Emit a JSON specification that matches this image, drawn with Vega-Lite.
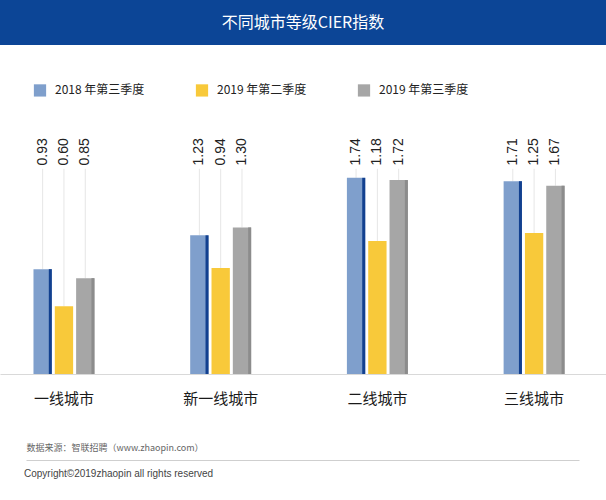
{
  "$schema": "https://vega.github.io/schema/vega-lite/v6.json",
  "padding": 0,
  "background": "white",
  "spacing": 37,
  "center": true,
  "title": {
    "text": "Copyright©2019zhaopin all rights reserved",
    "orient": "bottom",
    "anchor": "start",
    "dx": 24,
    "offset": 3,
    "fontSize": 10,
    "font": "Liberation Sans",
    "fontWeight": "normal",
    "color": "#444444"
  },
  "datasets": {
    "cier": [
      {"city": "一线城市", "period": "2018 年第三季度", "value": 0.93},
      {"city": "一线城市", "period": "2019 年第二季度", "value": 0.60},
      {"city": "一线城市", "period": "2019 年第三季度", "value": 0.85},
      {"city": "新一线城市", "period": "2018 年第三季度", "value": 1.23},
      {"city": "新一线城市", "period": "2019 年第二季度", "value": 0.94},
      {"city": "新一线城市", "period": "2019 年第三季度", "value": 1.30},
      {"city": "二线城市", "period": "2018 年第三季度", "value": 1.74},
      {"city": "二线城市", "period": "2019 年第二季度", "value": 1.18},
      {"city": "二线城市", "period": "2019 年第三季度", "value": 1.72},
      {"city": "三线城市", "period": "2018 年第三季度", "value": 1.71},
      {"city": "三线城市", "period": "2019 年第二季度", "value": 1.25},
      {"city": "三线城市", "period": "2019 年第三季度", "value": 1.67}
    ]
  },
  "vconcat": [
    {
      "width": 606,
      "height": 45,
      "view": {"fill": "#0c4596", "stroke": null},
      "data": {"values": [{"t": "不同城市等级CIER指数"}]},
      "mark": {"type": "text", "color": "white", "fontSize": 16, "font": "Noto Sans CJK SC", "fontWeight": "normal", "baseline": "middle", "align": "center"},
      "encoding": {"text": {"field": "t", "type": "nominal"}}
    },
    {
      "width": 606,
      "height": 292,
      "view": {"stroke": null},
      "data": {"name": "cier"},
      "resolve": {"scale": {"xOffset": "independent"}},
      "encoding": {
        "x": {
          "field": "city",
          "type": "nominal",
          "sort": ["一线城市", "新一线城市", "二线城市", "三线城市"],
          "scale": {"paddingInner": 0.611, "paddingOuter": 0.239, "align": 0.447},
          "axis": {
            "title": null,
            "labelAngle": 0,
            "ticks": false,
            "domainColor": "#d9d9d9",
            "labelFontSize": 15,
            "labelFont": "Noto Sans CJK SC",
            "labelColor": "#1a1a1a",
            "labelPadding": 17
          }
        }
      },
      "layer": [
        {
          "mark": {"type": "rule", "color": "#e6e6e6", "strokeWidth": 1},
          "encoding": {
            "xOffset": {
              "field": "period",
              "type": "nominal",
              "scale": {"type": "point", "domain": ["2018 年第三季度", "2019 年第二季度", "2019 年第三季度"], "padding": 0.4303, "align": 0.5}
            },
            "y": {"field": "value", "type": "quantitative", "scale": {"domain": [0, 2.59], "nice": false}, "axis": null},
            "y2": {"datum": 1.82}
          }
        },
        {
          "mark": {"type": "bar"},
          "encoding": {
            "xOffset": {
              "field": "period",
              "type": "nominal",
              "sort": ["2018 年第三季度", "2019 年第二季度", "2019 年第三季度"],
              "scale": {"paddingInner": 0.14, "paddingOuter": 0}
            },
            "y": {"field": "value", "type": "quantitative", "scale": {"domain": [0, 2.59], "nice": false}, "axis": null},
            "color": {
              "field": "period",
              "type": "nominal",
              "sort": ["2018 年第三季度", "2019 年第二季度", "2019 年第三季度"],
              "scale": {"domain": ["2018 年第三季度", "2019 年第二季度", "2019 年第三季度"], "range": ["#7f9fcc", "#f8c93a", "#a6a6a6"]},
              "legend": {
                "title": null,
                "orient": "none",
                "legendX": 33,
                "legendY": 83,
                "direction": "horizontal",
                "symbolType": "square",
                "symbolSize": 150,
                "labelFontSize": 12,
                "labelFont": "Noto Sans CJK SC",
                "labelColor": "#222222",
                "labelOffset": 8,
                "columnPadding": 50
              }
            }
          }
        },
        {
          "transform": [{"filter": "datum.period !== '2019 年第二季度'"}],
          "mark": {"type": "rule", "strokeWidth": 3},
          "encoding": {
            "xOffset": {
              "field": "period",
              "type": "nominal",
              "scale": {"type": "point", "domain": ["2018 年第三季度", "2019 年第二季度", "2019 年第三季度"], "padding": 0.4303, "align": 0.9177}
            },
            "y": {"field": "value", "type": "quantitative"},
            "y2": {"datum": 0},
            "color": {
              "condition": {"test": "datum.period === '2018 年第三季度'", "value": "#12408f"},
              "value": "#8c8c8c"
            }
          }
        },
        {
          "mark": {"type": "text", "angle": 270, "align": "left", "baseline": "middle", "fontSize": 14, "font": "Liberation Sans", "color": "#222222"},
          "encoding": {
            "xOffset": {
              "field": "period",
              "type": "nominal",
              "scale": {"type": "point", "domain": ["2018 年第三季度", "2019 年第二季度", "2019 年第三季度"], "padding": 0.4303, "align": 0.5}
            },
            "y": {"datum": 1.85, "type": "quantitative"},
            "text": {"field": "value", "type": "quantitative", "format": ".2f"}
          }
        }
      ]
    },
    {
      "width": 553,
      "height": 1,
      "view": {"fill": "#cfcfcf", "stroke": null},
      "title": {
        "text": "数据来源：智联招聘（www.zhaopin.com）",
        "anchor": "start",
        "orient": "top",
        "offset": 2,
        "fontSize": 9,
        "font": "Noto Sans CJK SC",
        "fontWeight": "normal",
        "color": "#666666"
      },
      "data": {"values": [{"t": ""}]},
      "mark": {"type": "text"},
      "encoding": {"text": {"field": "t", "type": "nominal"}}
    }
  ]
}
